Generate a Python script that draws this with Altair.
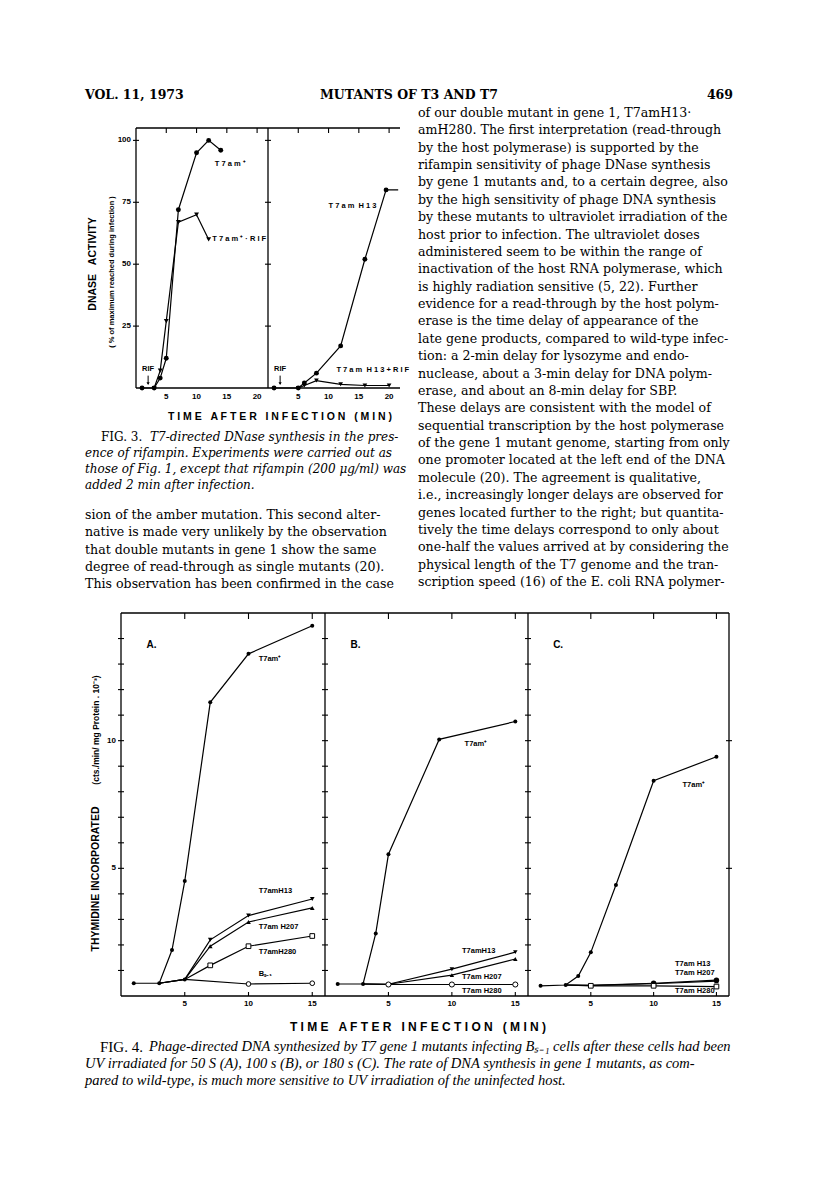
import altair as alt
import pandas as pd

NB = "\u00a0"

# ================= DATA =================
f3L_wt_t = [1, 3, 4, 5, 7, 10, 12, 14]
f3L_wt_v = [0, 0, 4, 12, 72, 95, 100, 96]
f3L_rif_t = [3, 4, 5, 7, 10, 12]
f3L_rif_v = [0, 7, 27, 67, 70, 60]
f3R_h13_t = [1, 5, 6, 8, 12, 16, 19.5, 21.5]
f3R_h13_v = [0, 0, 2, 6, 17, 52, 80, 80]
f3R_rif_t = [5, 6, 8, 12, 16, 20]
f3R_rif_v = [0, 1, 3, 1.5, 1, 1]
f3_xticks = [5, 10, 15, 20]
f3_yticks = [25, 50, 75, 100]
f3_rif_time = [2]

f4_xticks = [5, 10, 15]
f4_yminor = list(range(1, 15))
f4_ylabels = [5, 10]
f4_panels = ["A.", "B.", "C."]
f4A_wt_t = [1, 3, 4, 5, 7, 10, 15]
f4A_wt_v = [0.5, 0.5, 1.8, 4.5, 11.5, 13.4, 14.5]
f4A_mut_t = [3, 5, 7, 10, 15]
f4A_h13_v = [0.5, 0.65, 2.2, 3.15, 3.8]
f4A_h207_v = [0.5, 0.65, 1.95, 2.9, 3.45]
f4A_h280_v = [0.5, 0.65, 1.2, 1.95, 2.35]
f4A_bs1_t = [5, 10, 15]
f4A_bs1_v = [0.65, 0.47, 0.5]
f4B_wt_t = [1, 3, 4, 5, 9, 15]
f4B_wt_v = [0.47, 0.47, 2.45, 5.55, 10.05, 10.75]
f4B_mut_t = [3, 5, 10, 15]
f4B_h13_v = [0.47, 0.46, 1.05, 1.72]
f4B_h207_v = [0.47, 0.46, 0.82, 1.45]
f4B_h280_v = [0.47, 0.45, 0.45, 0.45]
f4C_wt_t = [1, 3, 4, 5, 7, 10, 15]
f4C_wt_v = [0.4, 0.43, 0.78, 1.71, 4.35, 8.43, 9.37]
f4C_mut_t = [3, 5, 10, 15]
f4C_h13_v = [0.43, 0.42, 0.5, 0.62]
f4C_h207_v = [0.43, 0.42, 0.48, 0.58]
f4C_h280_v = [0.43, 0.4, 0.4, 0.37]

# ================= TEXT =================
header_left = "VOL. 11, 1973"
header_mid = "MUTANTS OF T3 AND T7"
header_right = "469"
right_col = [
    "of our double mutant in gene 1, T7amH13·",
    "amH280. The first interpretation (read-through",
    "by the host polymerase) is supported by the",
    "rifampin sensitivity of phage DNase synthesis",
    "by gene 1 mutants and, to a certain degree, also",
    "by the high sensitivity of phage DNA synthesis",
    "by these mutants to ultraviolet irradiation of the",
    "host prior to infection. The ultraviolet doses",
    "administered seem to be within the range of",
    "inactivation of the host RNA polymerase, which",
    "is highly radiation sensitive (5, 22). Further",
    "evidence for a read-through by the host polym-",
    "erase is the time delay of appearance of the",
    "late gene products, compared to wild-type infec-",
    "tion: a 2-min delay for lysozyme and endo-",
    "nuclease, about a 3-min delay for DNA polym-",
    "erase, and about an 8-min delay for SBP.",
    "These delays are consistent with the model of",
    "sequential transcription by the host polymerase",
    "of the gene 1 mutant genome, starting from only",
    "one promoter located at the left end of the DNA",
    "molecule (20). The agreement is qualitative,",
    "i.e., increasingly longer delays are observed for",
    "genes located further to the right; but quantita-",
    "tively the time delays correspond to only about",
    "one-half the values arrived at by considering the",
    "physical length of the T7 genome and the tran-",
    "scription speed (16) of the E. coli RNA polymer-",
]
left_col = [
    "sion of the amber mutation. This second alter-",
    "native is made very unlikely by the observation",
    "that double mutants in gene 1 show the same",
    "degree of read-through as single mutants (20).",
    "This observation has been confirmed in the case",
]
fig3_cap_head = "FIG. 3."
fig3_cap = [
    "T7-directed DNase synthesis in the pres-",
    "ence of rifampin. Experiments were carried out as",
    "those of Fig. 1, except that rifampin (200 μg/ml) was",
    "added 2 min after infection.",
]
fig4_cap_head = "FIG. 4."
fig4_cap = [
    "Phage-directed DNA synthesized by T7 gene 1 mutants infecting Bₛ₋₁ cells after these cells had been",
    "UV irradiated for 50 S (A), 100 s (B), or 180 s (C). The rate of DNA synthesis in gene 1 mutants, as com-",
    "pared to wild-type, is much more sensitive to UV irradiation of the uninfected host.",
]
time_title = (NB * 3).join(["T I M E", "A F T E R", "I N F E C T I O N", "( M I N )"])
f3_ytitle = "DNASE" + NB * 3 + "ACTIVITY"
f3_ysub = "( % of maximum reached during infection )"
f4_ytitle = "THYMIDINE INCORPORATED"
f4_ysub = "(cts./min/ mg Protein . 10⁻³)"

# ================= LAYOUT HELPERS =================
M = 8
SERIF = "DejaVu Serif"
SANS = "Liberation Sans"


def P(v):
    return v - M


class Panel:
    def __init__(self, xdom, x0, x1, ydom, y0, y1):
        self.xs = alt.Scale(domain=xdom, range=[P(x0), P(x1)], nice=False, zero=False)
        self.ys = alt.Scale(domain=ydom, range=[P(y0), P(y1)], nice=False, zero=False)

    def X(self, f="x"):
        return alt.X(f, type="quantitative", scale=self.xs, axis=None)

    def Y(self, f="y"):
        return alt.Y(f, type="quantitative", scale=self.ys, axis=None)


L = []


def seg(p, x, y, x2, y2, w=1.3):
    df = pd.DataFrame({"x": [x], "y": [y], "x2": [x2], "y2": [y2]})
    L.append(alt.Chart(df).mark_rule(color="black", strokeWidth=w).encode(
        x=p.X(), y=p.Y(), x2="x2", y2="y2"))


def line(p, t, v, w=1.2):
    df = pd.DataFrame({"x": t, "y": v})
    L.append(alt.Chart(df).mark_line(color="black", strokeWidth=w).encode(x=p.X(), y=p.Y()))


def pts(p, t, v, shape="circle", size=20, open_=False, xmin=None, xmax=None):
    df = pd.DataFrame({"x": t, "y": v})
    if xmin is not None:
        df = df[df.x > xmin]
    if xmax is not None:
        df = df[df.x < xmax]
    if open_:
        mk = alt.Chart(df).mark_point(shape=shape, size=size, filled=True, fill="white",
                                      stroke="black", strokeWidth=1, opacity=1)
    else:
        mk = alt.Chart(df).mark_point(shape=shape, size=size, filled=True, color="black", opacity=1)
    L.append(mk.encode(x=p.X(), y=p.Y()))


def vticks(p, xs, yv, size=5, off=0):
    df = pd.DataFrame({"x": xs, "y": [yv] * len(xs)})
    L.append(alt.Chart(df).mark_tick(orient="vertical", size=size, thickness=1.1,
                                     color="black", yOffset=off, opacity=1).encode(x=p.X(), y=p.Y()))


def hticks(p, ys, xv, size=6, off=0):
    df = pd.DataFrame({"y": ys, "x": [xv] * len(ys)})
    L.append(alt.Chart(df).mark_tick(orient="horizontal", size=size, thickness=1.1,
                                     color="black", xOffset=off, opacity=1).encode(x=p.X(), y=p.Y()))


def labels(p, xs, ys, texts, size=8, align="left", weight="bold", font=SANS):
    df = pd.DataFrame({"x": xs, "y": ys, "t": texts})
    L.append(alt.Chart(df).mark_text(align=align, baseline="middle", font=font, fontSize=size,
                                     fontWeight=weight, color="black").encode(
        x=p.X(), y=p.Y(), text="t:N"))


def xlabels(p, xs, ypage, size=8):
    df = pd.DataFrame({"x": xs, "t": [str(v) for v in xs]})
    L.append(alt.Chart(df).mark_text(align="center", baseline="middle", font=SANS, fontSize=size,
                                     fontWeight="bold", color="black").encode(
        x=p.X(), y=alt.value(P(ypage)), text="t:N"))


def ylabels(p, ys, xpage, size=8):
    df = pd.DataFrame({"y": ys, "t": [str(v) for v in ys]})
    L.append(alt.Chart(df).mark_text(align="right", baseline="middle", font=SANS, fontSize=size,
                                     fontWeight="bold", color="black").encode(
        x=alt.value(P(xpage)), y=p.Y(), text="t:N"))


def block(lines, x, y_first, y_last, font=SERIF, size=12.6, style="normal", weight="normal",
          align="left", angle=0):
    n = len(lines)
    df = pd.DataFrame({"i": list(range(n)), "t": lines})
    if n > 1:
        ys = alt.Scale(domain=[0, n - 1], range=[P(y_first), P(y_last)], nice=False, zero=False)
    else:
        ys = alt.Scale(domain=[0, 1], range=[P(y_first), P(y_first) + 1], nice=False, zero=False)
    L.append(alt.Chart(df).mark_text(align=align, baseline="middle", font=font, fontSize=size,
                                     fontStyle=style, fontWeight=weight, color="black",
                                     angle=angle).encode(
        x=alt.value(P(x)), y=alt.Y("i:Q", scale=ys, axis=None), text="t:N"))


# ================= HEADER & BODY TEXT =================
block([header_left], 85, 95, 95, size=12.5, weight="bold")
block([header_mid], 409, 95, 95, size=12.5, weight="bold", align="center")
block([header_right], 733, 95, 95, size=12.5, weight="bold", align="right")
block(right_col, 418, 113, 582)
block(left_col, 85, 515, 584)
block([fig3_cap_head], 101, 437, 437, size=12)
block(fig3_cap[:1], 150, 437, 437, size=12, style="italic")
block(fig3_cap[1:], 85, 453, 485, size=12, style="italic")
block([fig4_cap_head], 100, 1047, 1047, font="Liberation Serif", size=15)
block(fig4_cap[:1], 149, 1047, 1047, font="Liberation Serif", size=14.5, style="italic")
block(fig4_cap[1:], 85, 1064, 1081, font="Liberation Serif", size=14.5, style="italic")

# ================= FIG. 3 =================
f3L = Panel([0, 21.8], 136, 268, [0, 105], 388, 128)
f3R = Panel([0, 21.8], 268, 400, [0, 105], 388, 128)
seg(f3L, 0, 0, 0, 105)
seg(f3L, 0, 105, 21.8, 105)
seg(f3R, 0, 105, 21.8, 105)
seg(f3L, 0, 0, 21.8, 0)
seg(f3R, 0, 0, 21.8, 0)
seg(f3R, 0, 0, 0, 105)
vticks(f3L, f3_xticks, 105, 5, 2.5)
vticks(f3R, f3_xticks, 105, 5, 2.5)
hticks(f3L, f3_yticks, 0, 6)
hticks(f3R, f3_yticks, 0, 6)
xlabels(f3L, f3_xticks, 397)
xlabels(f3R, f3_xticks, 397)
ylabels(f3L, f3_yticks, 131)

line(f3L, f3L_wt_t, f3L_wt_v)
line(f3L, f3L_rif_t, f3L_rif_v)
pts(f3L, f3L_wt_t, f3L_wt_v, "circle", 24)
pts(f3L, f3L_rif_t, f3L_rif_v, "triangle-down", 24)
line(f3R, f3R_h13_t, f3R_h13_v)
line(f3R, f3R_rif_t, f3R_rif_v)
pts(f3R, f3R_h13_t, f3R_h13_v, "circle", 24, xmax=21)
pts(f3R, f3R_rif_t, f3R_rif_v, "triangle-down", 22)

for p in (f3L, f3R):
    labels(p, f3_rif_time, [7.5], ["RIF"], size=7.5, align="center")
    seg(p, f3_rif_time[0], 5.0, f3_rif_time[0], 1.6, w=1)
    pts(p, f3_rif_time, [1.8], "triangle-down", 10)

labels(f3L, [13.0], [90.5], ["T 7 a m ⁺"], size=7.5)
labels(f3L, [12.6], [60.2], ["T 7 a m ⁺ · R I F"], size=7.5)
labels(f3R, [10.0], [73.5], ["T 7 a m" + NB * 2 + "H 1 3"], size=7.5)
labels(f3R, [11.3], [7.3], ["T 7 a m" + NB * 2 + "H 1 3 + R I F"], size=7.5)

block([time_title], 280, 417, 417, font=SANS, size=10.5, weight="bold", align="center")
block([f3_ytitle], 93, 264, 264, font=SANS, size=10.5, weight="bold", align="center", angle=270)
block([f3_ysub], 112, 272, 272, font=SANS, size=7.5, weight="bold", align="center", angle=270)

# ================= FIG. 4 =================
f4A = Panel([0, 16], 121, 325, [0, 15], 996, 613)
f4B = Panel([0, 16], 325, 528, [0, 15], 996, 613)
f4C = Panel([0, 16], 528, 729, [0, 15], 996, 613)
for p, name in zip((f4A, f4B, f4C), f4_panels):
    seg(p, 0, 15, 16, 15)
    seg(p, 0, 0, 16, 0)
    seg(p, 0, 0, 0, 15)
    vticks(p, f4_xticks, 15, 6, 3)
    vticks(p, f4_xticks, 0, 4, -2)
    xlabels(p, f4_xticks, 1004)
    hticks(p, f4_yminor, 0, 6)
    labels(p, [2.4], [13.75], [name], size=10, align="center")
seg(f4C, 16, 0, 16, 15)
hticks(f4C, f4_ylabels, 16, 6)
ylabels(f4A, f4_ylabels, 116)

line(f4A, f4A_wt_t, f4A_wt_v)
for v in (f4A_h13_v, f4A_h207_v, f4A_h280_v):
    line(f4A, f4A_mut_t, v)
line(f4A, f4A_bs1_t, f4A_bs1_v)
pts(f4A, f4A_wt_t, f4A_wt_v, "circle", 16)
pts(f4A, f4A_mut_t, f4A_h13_v, "triangle-down", 22, xmin=5)
pts(f4A, f4A_mut_t, f4A_h207_v, "triangle-up", 22, xmin=5)
pts(f4A, f4A_mut_t, f4A_h280_v, "square", 22, open_=True, xmin=5)
pts(f4A, f4A_bs1_t, f4A_bs1_v, "circle", 22, open_=True, xmin=5)
pts(f4A, [5], [f4A_h13_v[1]], "circle", 16)
labels(f4A, [10.8] * 5, [13.2, 4.1, 2.7, 1.72, 0.85],
       ["T7am⁺", "T7amH13", "T7am H207", "T7amH280", "Bₛ₋₁"], size=7.5)

line(f4B, f4B_wt_t, f4B_wt_v)
for v in (f4B_h13_v, f4B_h207_v, f4B_h280_v):
    line(f4B, f4B_mut_t, v)
pts(f4B, f4B_wt_t, f4B_wt_v, "circle", 16)
pts(f4B, f4B_mut_t, f4B_h13_v, "triangle-down", 20, xmin=5)
pts(f4B, f4B_mut_t, f4B_h207_v, "triangle-up", 20, xmin=5)
pts(f4B, f4B_mut_t, f4B_h280_v, "circle", 26, open_=True, xmin=4)
labels(f4B, [11.0, 10.8, 10.8, 10.8], [9.87, 1.78, 0.76, 0.2],
       ["T7am⁺", "T7amH13", "T7am H207", "T7am H280"], size=7.5)

line(f4C, f4C_wt_t, f4C_wt_v)
for v in (f4C_h13_v, f4C_h207_v, f4C_h280_v):
    line(f4C, f4C_mut_t, v)
pts(f4C, f4C_wt_t, f4C_wt_v, "circle", 16)
pts(f4C, f4C_mut_t, f4C_h13_v, "circle", 30, xmin=5)
pts(f4C, f4C_mut_t, f4C_h207_v, "triangle-up", 22, xmin=5)
pts(f4C, f4C_mut_t, f4C_h280_v, "square", 22, open_=True, xmin=4)
labels(f4C, [12.3, 11.7, 11.7, 11.7], [8.26, 1.27, 0.92, 0.18],
       ["T7am⁺", "T7am H13", "T7am H207", "T7am H280"], size=7.5)

block([time_title], 418, 1027, 1027, font=SANS, size=12, weight="bold", align="center")
block([f4_ytitle], 96, 879, 879, font=SANS, size=10.5, weight="bold", align="center", angle=270)
block([f4_ysub], 96, 730, 730, font=SANS, size=8.5, weight="bold", align="center", angle=270)

chart = alt.layer(*L).resolve_scale(x="independent", y="independent").properties(
    width=800, height=1177, padding=0, autosize=alt.AutoSizeParams(type="none"),
    background="white",
).configure_view(stroke=None)

chart.save("out.html", embed_options={"renderer": "svg", "actions": False})
